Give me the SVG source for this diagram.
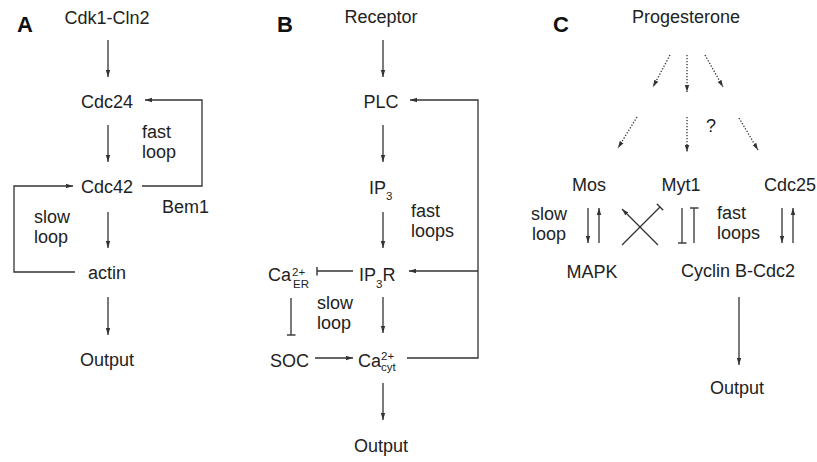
<svg xmlns="http://www.w3.org/2000/svg" width="817" height="462" viewBox="0 0 817 462">
<style>
text{font-family:"Liberation Sans",Arial,Helvetica,sans-serif;font-size:18px;fill:#222}
.c{text-anchor:middle}
.p{font-weight:bold;font-size:22px;fill:#111}
.s{font-size:11.5px}
.ln{fill:none;stroke:#333;stroke-width:1.3}
.a{marker-end:url(#arr)}
.b{marker-end:url(#bar)}
.d{stroke-dasharray:1.3 1.7}
</style>
<defs>
<marker id="arr" markerUnits="userSpaceOnUse" markerWidth="8" markerHeight="6" refX="7" refY="3" orient="auto"><path d="M0,0.8 L7,3 L0,5.2 z" fill="#333"/></marker>
<marker id="bar" markerUnits="userSpaceOnUse" markerWidth="2" markerHeight="9" refX="1" refY="4.5" orient="auto"><path d="M1,0 V9" stroke="#333" stroke-width="1.4"/></marker>
</defs>
<rect width="817" height="462" fill="#fff"/>

<!-- Panel A -->
<text id="labelA" class="p" x="17" y="32">A</text>
<g id="a_cdk1"><text class="c" x="107" y="24">Cdk1-Cln2</text></g>
<g id="a_cdc24"><text class="c" x="107" y="108">Cdc24</text></g>
<g id="a_cdc42"><text class="c" x="107" y="193">Cdc42</text></g>
<g id="a_actin"><text class="c" x="107" y="279">actin</text></g>
<g id="a_output"><text class="c" x="107" y="366">Output</text></g>
<g id="a_bem1"><text x="162" y="213">Bem1</text></g>
<g id="a_fast"><text><tspan x="142" y="138">fast</tspan><tspan x="142" y="158">loop</tspan></text></g>
<g id="a_slow"><text><tspan x="34" y="223">slow</tspan><tspan x="34" y="243">loop</tspan></text></g>

<!-- Panel B -->
<text id="labelB" class="p" x="277" y="32">B</text>
<g id="b_receptor"><text class="c" x="381" y="23">Receptor</text></g>
<g id="b_plc"><text class="c" x="381" y="108">PLC</text></g>
<g id="b_ip3"><text x="369" y="194">IP<tspan class="s" y="200">3</tspan></text></g>
<g id="b_ip3r"><text x="359" y="281">IP<tspan class="s" y="288">3</tspan><tspan y="281">R</tspan></text></g>
<g id="b_caer"><text x="268" y="281">Ca<tspan class="s" x="292" y="276">2+</tspan><tspan class="s" x="293" y="288">ER</tspan></text></g>
<g id="b_soc"><text x="270" y="367">SOC</text></g>
<g id="b_cacyt"><text x="358" y="367">Ca<tspan class="s" x="381" y="360">2+</tspan><tspan class="s" x="381" y="371">cyt</tspan></text></g>
<g id="b_output"><text class="c" x="381" y="452">Output</text></g>
<g id="b_fast"><text><tspan x="411" y="217">fast</tspan><tspan x="411" y="237">loops</tspan></text></g>
<g id="b_slow"><text><tspan x="317" y="309">slow</tspan><tspan x="317" y="329">loop</tspan></text></g>

<!-- Panel C -->
<text id="labelC" class="p" x="553" y="32">C</text>
<g id="c_prog"><text class="c" x="686" y="23">Progesterone</text></g>
<g id="c_q"><text x="706" y="132">?</text></g>
<g id="c_mos"><text class="c" x="589" y="191">Mos</text></g>
<g id="c_myt1"><text class="c" x="681" y="191">Myt1</text></g>
<g id="c_cdc25"><text class="c" x="790" y="191">Cdc25</text></g>
<g id="c_mapk"><text class="c" x="592" y="278">MAPK</text></g>
<g id="c_cyclin"><text class="c" x="738" y="277">Cyclin B-Cdc2</text></g>
<g id="c_output"><text class="c" x="737" y="394">Output</text></g>
<g id="c_slow"><text><tspan x="531" y="220">slow</tspan><tspan x="532" y="240">loop</tspan></text></g>
<g id="c_fast"><text><tspan x="717" y="219">fast</tspan><tspan x="717" y="239">loops</tspan></text></g>

<g id="connectors">
<!-- A -->
<path class="ln a" d="M108,40 V77"/>
<path class="ln a" d="M108,125 V162"/>
<path class="ln a" d="M108,212 V248"/>
<path class="ln a" d="M108,297 V335"/>
<path class="ln a" d="M142,186 H202 V100 H145"/>
<path class="ln a" d="M75,272 H14 V186 H73"/>
<!-- B -->
<path class="ln a" d="M383,40 V77"/>
<path class="ln a" d="M383,125 V162"/>
<path class="ln a" d="M383,212 V248"/>
<path class="ln a" d="M383,297 V333"/>
<path class="ln a" d="M383,383 V420"/>
<path class="ln b" d="M353,271 H317"/>
<path class="ln b" d="M291,298 V335"/>
<path class="ln a" d="M315,358 H353"/>
<path class="ln a" d="M407,358 H478 V100 H410"/>
<path class="ln a" d="M478,271 H409"/>
<!-- C -->
<path class="ln a d" d="M670,55 L653,87"/>
<path class="ln a d" d="M687,55 V92"/>
<path class="ln a d" d="M705,55 L723,87"/>
<path class="ln a d" d="M637,117 L618,148"/>
<path class="ln a d" d="M687,117 V152"/>
<path class="ln a d" d="M739,118 L758,150"/>
<path class="ln a" d="M588,208 V243"/>
<path class="ln a" d="M599,243 V208"/>
<path class="ln a" d="M658,245 L622,209"/>
<path class="ln b" d="M622,245 L660,207"/>
<path class="ln b" d="M682,208 V243"/>
<path class="ln b" d="M694,243 V208"/>
<path class="ln a" d="M782,208 V243"/>
<path class="ln a" d="M793,243 V208"/>
<path class="ln a" d="M739,297 V365"/>
</g>
</svg>
